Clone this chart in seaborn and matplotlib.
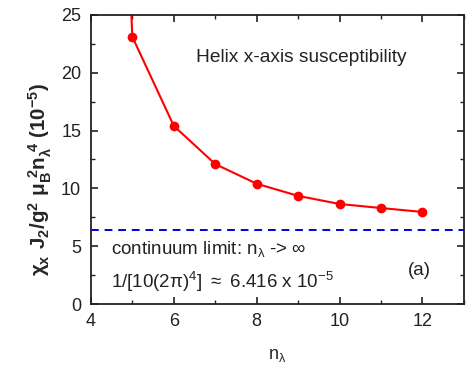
import numpy as np
import matplotlib
matplotlib.use('Agg')
import matplotlib.pyplot as plt
import seaborn as sns
from matplotlib.ticker import MultipleLocator

# data
n_lambda = [4, 5, 6, 7, 8, 9, 10, 11, 12]
chi_x = [103.0, 23.1, 15.4, 12.1, 10.4, 9.35, 8.65, 8.3, 7.96]
continuum = 6.416

sns.set_theme(style='ticks')
plt.rcParams['font.family'] = ['Liberation Sans', 'DejaVu Sans']
plt.rcParams['mathtext.default'] = 'regular'

fig = plt.figure(figsize=(4.71, 3.81), dpi=100)
ax = fig.add_axes([0.193, 0.202, 0.792, 0.759])

sns.lineplot(x=n_lambda, y=chi_x, ax=ax, color='#ff0000', marker='o',
             markersize=7, markeredgewidth=0, linewidth=1.5)
ax.axhline(continuum, color='#0000dd', linestyle=(0, (4, 3)), linewidth=1.4)

ax.set_xlim(4, 13)
ax.set_ylim(0, 25)
ax.xaxis.set_major_locator(MultipleLocator(2))
ax.xaxis.set_minor_locator(MultipleLocator(1))
ax.yaxis.set_major_locator(MultipleLocator(5))
ax.yaxis.set_minor_locator(MultipleLocator(2.5))
ax.tick_params(which='both', direction='in', top=True, right=True,
               labelsize=13, colors='#222222')
ax.tick_params(which='major', length=5, width=1.2)
ax.tick_params(which='minor', length=3, width=1.0)
ax.tick_params(axis='y', pad=7)
ax.tick_params(axis='x', pad=6.5)
for s in ax.spines.values():
    s.set_linewidth(1.3)
    s.set_color('#222222')

ax.set_xlabel(r'$n_\lambda$', fontsize=13)
ax.xaxis.set_label_coords(0.5, -0.15)
ax.set_ylabel(r'$\chi_x\ J_2/g^2\ \mu_B^{\ 2}n_\lambda^{\ 4}$ (10$^{-5}$)',
              fontsize=14.8, fontweight='bold')
ax.yaxis.set_label_coords(-0.10, 0.43)

ax.text(0.281, 0.837, 'Helix x-axis susceptibility', transform=ax.transAxes,
        fontsize=13.8, color='#222222', va='baseline')
ax.text(0.054, 0.173, r'continuum limit: $n_\lambda$ -> $\infty$',
        transform=ax.transAxes, fontsize=13.5, color='#222222', va='baseline')
ax.text(0.054, 0.055, r'1/[10(2$\pi$)$^4$] $\approx$ 6.416 x 10$^{-5}$',
        transform=ax.transAxes, fontsize=13.5, color='#222222', va='baseline')
ax.text(0.85, 0.10, '(a)', transform=ax.transAxes, fontsize=13.5,
        color='#222222', va='baseline')

fig.savefig('out.png', dpi=100)
